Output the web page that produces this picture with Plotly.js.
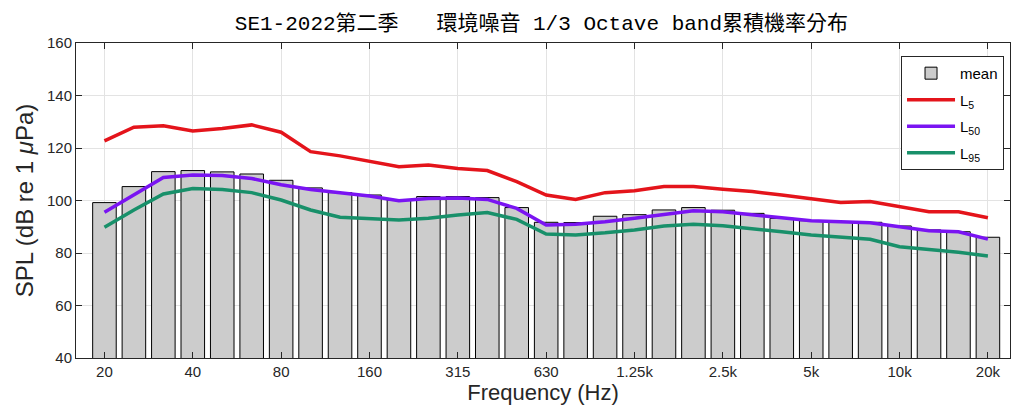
<!DOCTYPE html>
<html><head><meta charset="utf-8">
<script src="https://cdn.plot.ly/plotly-3.0.1.min.js"></script>
<style>html,body{margin:0;padding:0;background:#fff}#chart{width:1012px;height:417px}</style>
</head><body><div id="chart"></div>
<script>
const bands = ['20','25','31.5','40','50','63','80','100','125','160','200','250','315','400','500','630','800','1k','1.25k','1.6k','2k','2.5k','3.15k','4k','5k','6.3k','8k','10k','12.5k','16k','20k'];
const tickLabels = ['20','40','80','160','315','630','1.25k','2.5k','5k','10k','20k'];
const meanVals = [99.2,105.3,111.0,111.4,110.9,110.1,107.7,104.8,103.0,102.1,100.2,101.5,101.5,101.1,97.3,91.7,91.6,94.0,94.6,96.4,97.3,96.3,95.1,93.2,92.3,91.9,91.7,90.3,88.8,88.1,86.0];
const L5 = [122.7,127.9,128.5,126.5,127.4,128.8,126.0,118.6,117.0,115.0,112.9,113.5,112.2,111.4,107.2,102.1,100.4,103.0,103.7,105.3,105.3,104.3,103.4,102.1,100.8,99.2,99.6,97.6,95.7,95.7,93.4];
const L50 = [95.5,102.1,108.8,109.7,109.5,108.4,106.0,104.2,103.0,101.7,99.9,100.8,101.0,100.4,97.0,90.7,91.0,91.9,93.2,94.7,96.1,95.7,94.5,93.4,92.3,91.9,91.5,90.0,88.5,88.1,85.3];
const L95 = [89.8,96.4,102.5,104.6,104.2,103.0,100.2,96.4,93.6,93.2,92.6,93.2,94.5,95.4,92.8,87.2,86.9,87.7,88.8,90.3,91.0,90.4,89.4,88.1,86.9,86.0,85.2,82.4,81.5,80.3,78.9];

const idx = bands.map((b,i)=>i);
const tickIdx = tickLabels.map(t=>bands.indexOf(t));

const lineCommon = {type:'scatter', mode:'lines', x: idx};
const data = [
  {type:'bar', x: idx, y: meanVals, base: 0, name:'mean', width:0.8, legendgroup:'a',
   marker:{color:'#cccccc', line:{color:'#000000', width:1}}},
  Object.assign({}, lineCommon, {y:L5, name:'L<sub>5</sub>', legendgroup:'b', line:{color:'#e4141b', width:3.5}}),
  Object.assign({}, lineCommon, {y:L50, name:'L<sub>50</sub>', legendgroup:'c', line:{color:'#7a14f2', width:3.5}}),
  Object.assign({}, lineCommon, {y:L95, name:'L<sub>95</sub>', legendgroup:'d', line:{color:'#18906a', width:3.5}})
];

const axisFont = {family:'Liberation Sans, Arial, sans-serif', size:15, color:'#262626'};
const layout = {
  width:1012, height:417,
  margin:{l:76, r:2, t:43, b:59},
  paper_bgcolor:'#ffffff', plot_bgcolor:'#ffffff',
  showlegend:true,
  title:{text:'SE1-2022第二季   環境噪音 1/3 Octave band累積機率分布', x:0.535, xanchor:'center', y:0.945, yanchor:'middle',
         font:{family:'Liberation Mono, Noto Sans CJK TC, monospace', size:21, color:'#000000'}},
  xaxis:{range:[-0.966, 30.75], tickmode:'array', tickvals:tickIdx, ticktext:tickLabels,
         ticks:'inside', ticklen:6, tickcolor:'#262626', showline:true, linecolor:'#262626', linewidth:1, mirror:'ticks',
         showgrid:true, gridcolor:'#e3e3e3', gridwidth:1, zeroline:false, tickfont:axisFont,
         title:{text:'Frequency (Hz)', font:{family:'Liberation Sans, Arial, sans-serif', size:22, color:'#262626'}, standoff:4}},
  yaxis:{range:[40,160], tickmode:'array', tickvals:[40,60,80,100,120,140,160],
         ticks:'inside', ticklen:6, tickcolor:'#262626', showline:true, linecolor:'#262626', linewidth:1, mirror:'ticks',
         showgrid:true, gridcolor:'#e3e3e3', gridwidth:1, zeroline:false, tickfont:axisFont,
         title:{text:'SPL (dB re 1 <i>μ</i>Pa)', font:{family:'Liberation Sans, Arial, sans-serif', size:24, color:'#262626'}, standoff:6}},
  legend:{x:0.9936, y:0.959, xanchor:'right', yanchor:'top', bgcolor:'#ffffff', bordercolor:'#262626', borderwidth:1,
          font:{family:'Liberation Sans, Arial, sans-serif', size:15, color:'#000000'}, tracegroupgap:4, itemwidth:48}
};
Plotly.newPlot('chart', data, layout, {displayModeBar:false, staticPlot:true});
</script></body></html>
